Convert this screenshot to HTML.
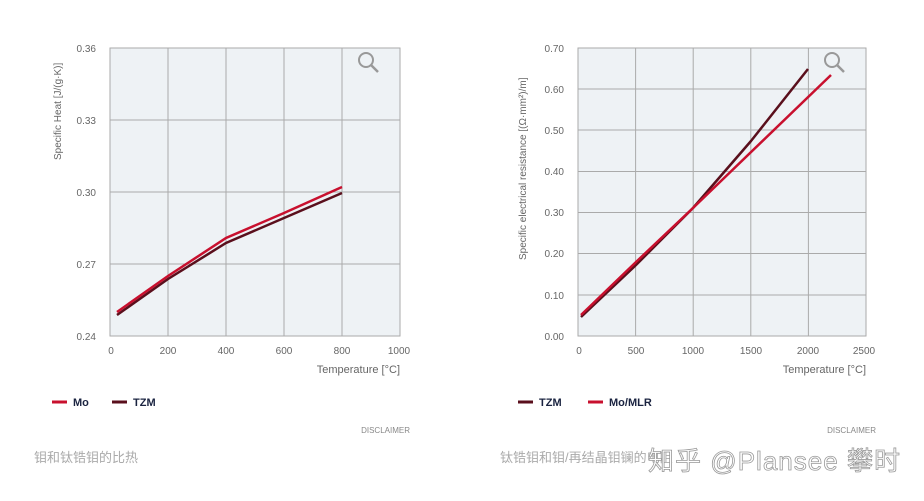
<!DOCTYPE html>
<html><head><meta charset="utf-8"><style>
body{margin:0;background:#fff;width:924px;height:496px;overflow:hidden}
text{font-family:"Liberation Sans","Noto Sans CJK SC",sans-serif}
</style></head><body>
<svg width="924" height="496" xmlns="http://www.w3.org/2000/svg">
<rect x="110" y="48" width="290" height="288" fill="#eef2f5" stroke="#aaa"/>
<g stroke="#aaa" stroke-width="1">
<line x1="168" y1="48" x2="168" y2="336"/><line x1="226" y1="48" x2="226" y2="336"/>
<line x1="284" y1="48" x2="284" y2="336"/><line x1="342" y1="48" x2="342" y2="336"/>
<line x1="110" y1="120" x2="400" y2="120"/><line x1="110" y1="192" x2="400" y2="192"/><line x1="110" y1="264" x2="400" y2="264"/>
</g>
<g fill="#666" font-size="10" text-anchor="end">
<text x="96" y="52">0.36</text><text x="96" y="124">0.33</text><text x="96" y="196">0.30</text><text x="96" y="268">0.27</text><text x="96" y="340">0.24</text>
</g>
<g fill="#666" font-size="10" text-anchor="middle">
<text x="111" y="354">0</text><text x="168" y="354">200</text><text x="226" y="354">400</text><text x="284" y="354">600</text><text x="342" y="354">800</text><text x="399" y="354">1000</text>
</g>
<text x="400" y="373" fill="#666" font-size="11" text-anchor="end">Temperature [°C]</text>
<text transform="translate(61,160) rotate(-90)" fill="#666" font-size="10">Specific Heat [J/(g·K)]</text>
<polyline points="117,315 168,279 226,243 284,218 342,193" fill="none" stroke="#5a0f1c" stroke-width="2.5"/>
<polyline points="117,312 168,276 226,238 284,213 342,187" fill="none" stroke="#c8102e" stroke-width="2.5"/>
<circle cx="366" cy="60" r="7" fill="none" stroke="#999" stroke-width="2"/><line x1="371" y1="65" x2="378" y2="72" stroke="#999" stroke-width="2.5"/>
<line x1="52" y1="402" x2="67" y2="402" stroke="#c8102e" stroke-width="3"/>
<text x="73" y="406" font-size="11" font-weight="bold" fill="#1a2340">Mo</text>
<line x1="112" y1="402" x2="127" y2="402" stroke="#5a0f1c" stroke-width="3"/>
<text x="133" y="406" font-size="11" font-weight="bold" fill="#1a2340">TZM</text>
<text x="410" y="433" font-size="8" fill="#888" text-anchor="end">DISCLAIMER</text>
<text x="34" y="462" font-size="13" fill="#aaa">钼和钛锆钼的比热</text>

<rect x="578" y="48" width="288" height="288" fill="#eef2f5" stroke="#aaa"/>
<g stroke="#aaa" stroke-width="1">
<line x1="635.6" y1="48" x2="635.6" y2="336"/><line x1="693.2" y1="48" x2="693.2" y2="336"/>
<line x1="750.8" y1="48" x2="750.8" y2="336"/><line x1="808.4" y1="48" x2="808.4" y2="336"/>
<line x1="578" y1="89" x2="866" y2="89"/><line x1="578" y1="130" x2="866" y2="130"/><line x1="578" y1="171.5" x2="866" y2="171.5"/>
<line x1="578" y1="212.5" x2="866" y2="212.5"/><line x1="578" y1="253.5" x2="866" y2="253.5"/><line x1="578" y1="295" x2="866" y2="295"/>
</g>
<g fill="#666" font-size="10" text-anchor="end">
<text x="564" y="52">0.70</text><text x="564" y="93">0.60</text><text x="564" y="134">0.50</text><text x="564" y="175">0.40</text><text x="564" y="216">0.30</text><text x="564" y="257">0.20</text><text x="564" y="299">0.10</text><text x="564" y="340">0.00</text>
</g>
<g fill="#666" font-size="10" text-anchor="middle">
<text x="579" y="354">0</text><text x="636" y="354">500</text><text x="693" y="354">1000</text><text x="751" y="354">1500</text><text x="808" y="354">2000</text><text x="864" y="354">2500</text>
</g>
<text x="866" y="373" fill="#666" font-size="11" text-anchor="end">Temperature [°C]</text>
<text transform="translate(526,260) rotate(-90)" fill="#666" font-size="10">Specific electrical resistance [(Ω·mm²)/m]</text>
<polyline points="581,317 636,265 693,208 751,141 808,69" fill="none" stroke="#5a0f1c" stroke-width="2.5" stroke-linejoin="round"/>
<polyline points="581,315 636,262 693,208 831,75" fill="none" stroke="#c8102e" stroke-width="2.5" stroke-linejoin="round"/>
<circle cx="832" cy="60" r="7" fill="none" stroke="#999" stroke-width="2"/><line x1="837" y1="65" x2="844" y2="72" stroke="#999" stroke-width="2.5"/>
<line x1="518" y1="402" x2="533" y2="402" stroke="#5a0f1c" stroke-width="3"/>
<text x="539" y="406" font-size="11" font-weight="bold" fill="#1a2340">TZM</text>
<line x1="588" y1="402" x2="603" y2="402" stroke="#c8102e" stroke-width="3"/>
<text x="609" y="406" font-size="11" font-weight="bold" fill="#1a2340">Mo/MLR</text>
<text x="876" y="433" font-size="8" fill="#888" text-anchor="end">DISCLAIMER</text>
<text x="500" y="462" font-size="13" fill="#aaa">钛锆钼和钼/再结晶钼镧的电阻</text>
<text x="648" y="470" font-size="26" fill="#fff" stroke="#999" stroke-width="0.8" textLength="252">知乎 @Plansee 攀时</text>
</svg>
</body></html>
